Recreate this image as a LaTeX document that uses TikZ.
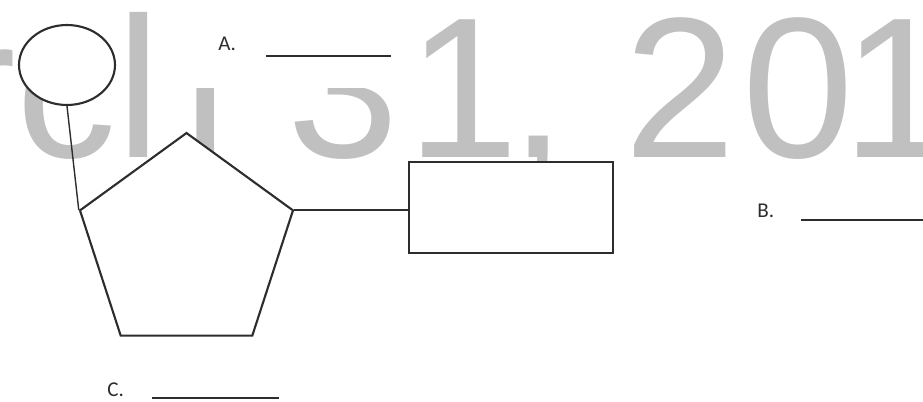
\documentclass[tikz,border=0pt]{standalone}
\usepackage{fontspec}
\setmainfont{Carlito}
\newfontfamily\wmfont{Liberation Sans}
\usetikzlibrary{shapes.geometric}
\definecolor{wmgray}{RGB}{192,192,192}
\definecolor{inkgray}{RGB}{45,45,45}
\tikzset{
  wmark/.style={text=wmgray, font=\wmfont\fontsize{114}{114}\selectfont, inner sep=0, anchor=base},
  part/.style={draw=inkgray, fill=white, line width=1.2pt, inner sep=0},
  link/.style={draw=inkgray, line width=0.8pt},
  lbl/.style={font=\fontsize{12}{14}\selectfont, text=inkgray, inner sep=0, anchor=base west},
}
\begin{document}
\begin{tikzpicture}[x=0.02cm, y=-0.02cm]
    \useasboundingbox (0,0) rectangle (923,402);
    \begin{scope}
      \clip (-60,0) -- (923,0) -- (923,402) -- (-60,402) -- cycle
            (188,0) -- (188,88) -- (400,88) -- (400,0) -- cycle;
      \foreach \g/\x [count=\k] in {r/-17, c/67, l/139, i/206, 3/343, 1/463, {,}/538, 2/680, 0/798, 1/898}
        \node[wmark] (wm\k) at (\x,157) {\g};
    \end{scope}
    \node[part, ellipse, minimum width=1.92cm, minimum height=1.6cm] (phos) at (67,65) {};
    \node[part, regular polygon, regular polygon sides=5, minimum size=4.48cm] (ring) at (186.5,245) {};
    \node[part, minimum width=4.08cm, minimum height=1.82cm] (base) at (511,207.5) {};
    \draw[link] (phos.south) -- (ring.corner 2);
    \draw[link] (ring.corner 5) -- (ring.corner 5 -| base.west);
    \node[lbl] (labA) at (218,51) {A.\hspace{17pt}\rule[-3.4pt]{71pt}{1pt}};
    \node[lbl] (labB) at (757,217) {B.\hspace{15pt}\rule[-2.3pt]{72pt}{1pt}};
    \node[lbl] (labC) at (107,396) {C.\hspace{16pt}\rule[-1.7pt]{72pt}{1pt}};
\end{tikzpicture}
\end{document}
